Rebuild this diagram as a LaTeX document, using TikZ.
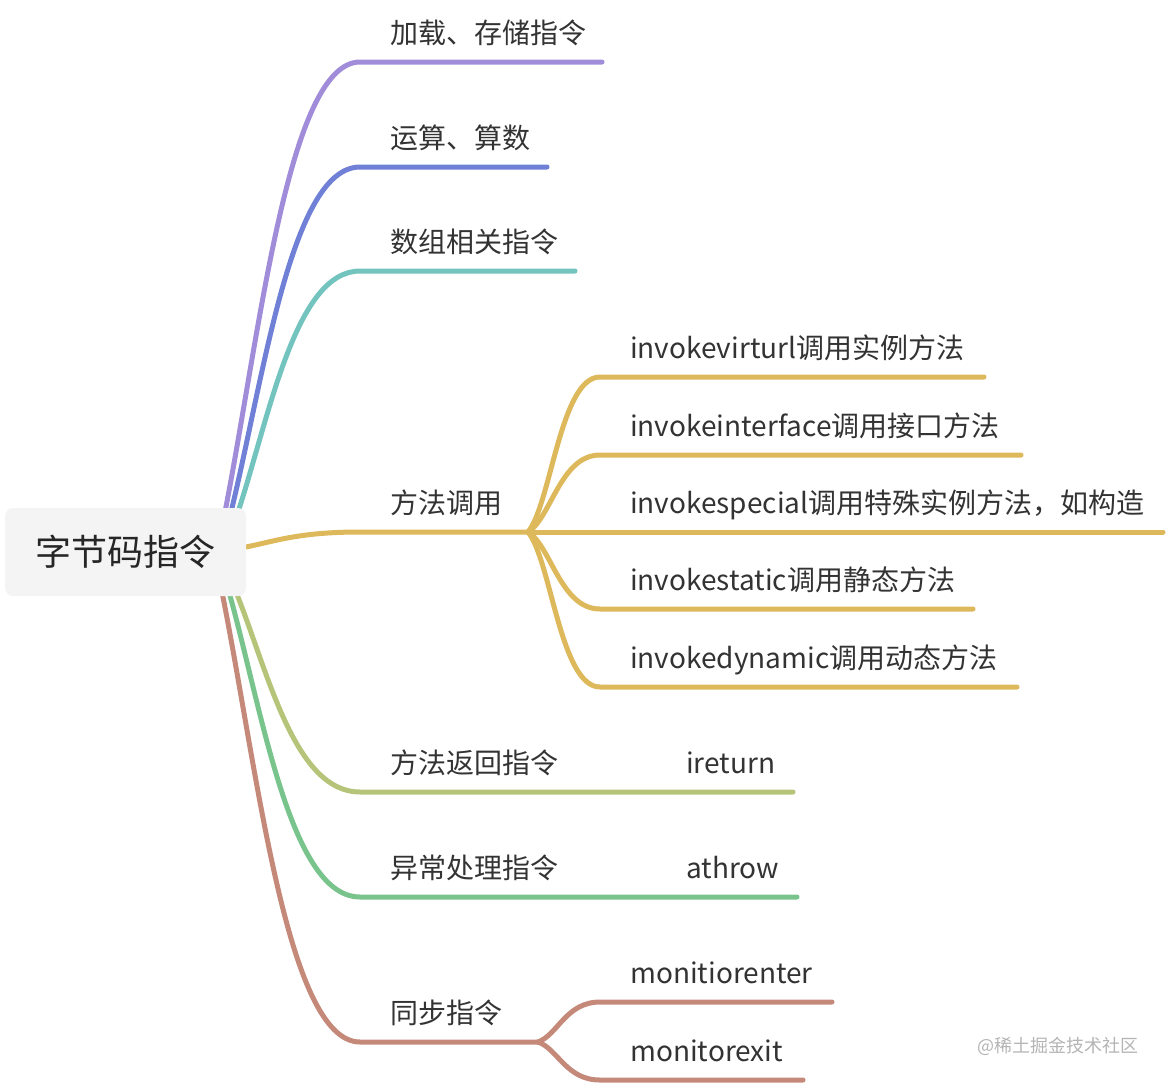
\documentclass[tikz,border=0pt]{standalone}
\usepackage{fontspec}
\setmainfont{Noto Sans CJK SC}
\usetikzlibrary{calc}
\pgfdeclarelayer{background}
\pgfsetlayers{background,main}
\definecolor{cPurple}{HTML}{A08CD8}
\definecolor{cBlue}{HTML}{6F80D6}
\definecolor{cTeal}{HTML}{73C3BE}
\definecolor{cGold}{HTML}{DDB95C}
\definecolor{cOlive}{HTML}{B6C47A}
\definecolor{cGreen}{HTML}{78C48C}
\definecolor{cBrown}{HTML}{C5897A}
\definecolor{cText}{HTML}{333333}
\definecolor{cRoot}{HTML}{F4F4F4}
\definecolor{cMark}{HTML}{B4B4B4}
\begin{document}
\begin{tikzpicture}[x=1pt,y=-1pt,
  branch/.style={line width=5pt, line cap=round, line join=round,
    to path={let \p1=(\tikztostart), \p2=(\tikztotarget) in
      .. controls ({\x1+0.26*(\x2-\x1)},{\y1+0.4*(\y2-\y1)}) and ({\x1+0.47*(\x2-\x1)},\y2) .. (\tikztotarget) \tikztonodes}},
  subbranch/.style={line width=5pt, line cap=round, line join=round,
    to path={let \p1=(\tikztostart), \p2=(\tikztotarget) in
      .. controls ({\x1+0.32*(\x2-\x1)},{\y1+0.18*(\y2-\y1)}) and ({\x1+0.45*(\x2-\x1)},\y2) .. (\tikztotarget) \tikztonodes}},
  lab/.style={anchor=base west, inner sep=0pt, text=cText, font=\fontsize{28}{34}\selectfont},
  rootbox/.style={fill=cRoot, rounded corners=8pt, minimum width=241pt, minimum height=88pt, inner sep=0pt, text=black!85, font=\fontsize{36}{40}\selectfont}
]
\useasboundingbox (0,0) rectangle (1166,1084);

% root
\node[rootbox] (root) at (125.5,552) {字节码指令};

% labels
\node[lab] (l1) at (390,43) {加载、存储指令};
\node[lab] (l2) at (390,148) {运算、算数};
\node[lab] (l3) at (390,252) {数组相关指令};
\node[lab] (l4) at (390,513) {方法调用};
\node[lab] (i1) at (630,358) {invokevirturl调用实例方法};
\node[lab] (i2) at (630,436) {invokeinterface调用接口方法};
\node[lab] (i3) at (630,513) {invokespecial调用特殊实例方法，如构造};
\node[lab] (i4) at (630,590) {invokestatic调用静态方法};
\node[lab] (i5) at (630,668) {invokedynamic调用动态方法};
\node[lab] (l5) at (390,773) {方法返回指令};
\node[lab] (r1) at (686,773) {ireturn};
\node[lab] (l6) at (390,878) {异常处理指令};
\node[lab] (a1) at (686,878) {athrow};
\node[lab] (l7) at (390,1023) {同步指令};
\node[lab] (m1) at (630,983) {monitiorenter};
\node[lab] (m2) at (630,1061) {monitorexit};
\node[anchor=base west, inner sep=0pt, text=cMark, font=\fontsize{18}{20}\selectfont] (wm) at (977,1052) {@稀土掘金技术社区};

% coordinates
\coordinate (s1) at (225,512);
\coordinate (s2) at (231,512);
\coordinate (s3) at (238,512);
\coordinate (s4) at (246,547);
\coordinate (s5) at (236,592);
\coordinate (s6) at (229,592);
\coordinate (s7) at (222,592);
\coordinate (e1) at (360,62);   \coordinate (f1) at (602,62);
\coordinate (e2) at (360,167);  \coordinate (f2) at (547,167);
\coordinate (e3) at (360,271);  \coordinate (f3) at (575,271);
\coordinate (e4) at (360,532);  \coordinate (hub) at (528,532);
\coordinate (c1) at (600,377);  \coordinate (d1) at (984,377);
\coordinate (c2) at (600,455);  \coordinate (d2) at (1021,455);
\coordinate (d3) at (1163,532);
\coordinate (c4) at (600,609);  \coordinate (d4) at (973,609);
\coordinate (c5) at (600,687);  \coordinate (d5) at (1017,687);
\coordinate (e5) at (360,792);  \coordinate (f5) at (793,792);
\coordinate (e6) at (360,897);  \coordinate (f6) at (797,897);
\coordinate (e7) at (360,1042); \coordinate (hub2) at (538,1042);
\coordinate (g1) at (600,1002); \coordinate (h1) at (832,1002);
\coordinate (g2) at (600,1080); \coordinate (h2) at (803,1080);

\begin{pgfonlayer}{background}
\draw[branch,cPurple] (s1) to (e1) -- (f1);
\draw[branch,cBlue] (s2) to (e2) -- (f2);
\draw[branch,cTeal] (s3) to (e3) -- (f3);
\draw[branch,cGold] (s4) to (e4) -- (hub);
\draw[subbranch,cGold] (hub) to (c1) -- (d1);
\draw[subbranch,cGold] (hub) to (c2) -- (d2);
\draw[subbranch,cGold] (hub) -- (d3);
\draw[subbranch,cGold] (hub) to (c4) -- (d4);
\draw[subbranch,cGold] (hub) to (c5) -- (d5);
\draw[branch,cOlive] (s5) to (e5) -- (f5);
\draw[branch,cGreen] (s6) to (e6) -- (f6);
\draw[branch,cBrown] (s7) to (e7) -- (hub2);
\draw[subbranch,cBrown] (hub2) to (g1) -- (h1);
\draw[subbranch,cBrown] (hub2) to (g2) -- (h2);
\end{pgfonlayer}
\end{tikzpicture}
\end{document}
